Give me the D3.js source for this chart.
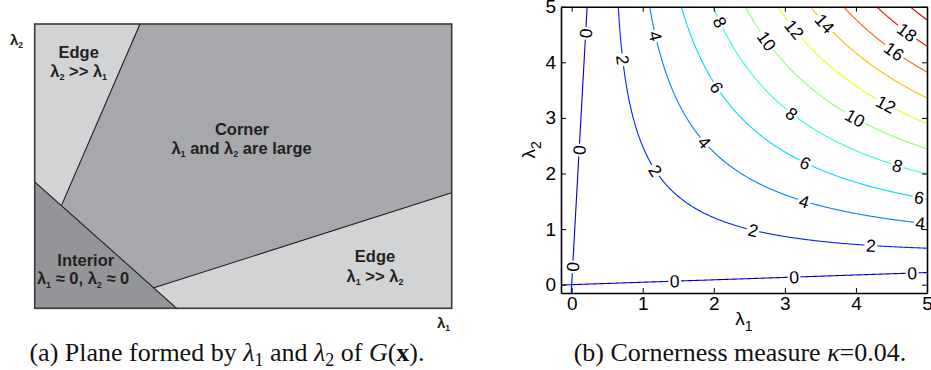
<!DOCTYPE html>
<html>
<head>
<meta charset="utf-8">
<script src="https://cdn.jsdelivr.net/npm/d3@7"></script>
<style>
  body { margin: 0; background: #fff; }
  svg { display: block; }
</style>
</head>
<body>
<svg id="fig" width="931" height="370"></svg>
<script>
// ---------------------------------------------------------------
// Data
// ---------------------------------------------------------------

// (a) Schematic plane: region outlines in normalised (λ1, λ2) units, 0..1
const cornerRegion   = [[0.2525, 1], [1, 1], [1, 0.4066], [0.286, 0.072], [0.0643, 0.362]];
const interiorRegion = [[0, 0], [0, 0.445], [0.3405, 0]];
const dividerEdge2   = [[0.2525, 1], [0.0643, 0.362]];
const dividerEdge1   = [[0.286, 0.072], [1, 0.4066]];
const dividerInterior = [[0, 0.445], [0.3405, 0]];

// Region captions (text parts; {sub: ...} marks a subscript)
const regionTexts = [
  ["Edge"],
  ["λ", {sub: "2"}, " >> λ", {sub: "1"}],
  ["Corner"],
  ["λ", {sub: "1"}, " and λ", {sub: "2"}, " are large"],
  ["Interior"],
  ["λ", {sub: "1"}, " ≈ 0, λ", {sub: "2"}, " ≈ 0"],
  ["Edge"],
  ["λ", {sub: "1"}, " >> λ", {sub: "2"}]
];

// (b) Harris cornerness R = λ1·λ2 − κ(λ1+λ2)²
const kappa = 0.04;
const levels = [0, 2, 4, 6, 8, 10, 12, 14, 16, 18, 20];
const lambda1Ticks = [0, 1, 2, 3, 4, 5];
const lambda2Ticks = [0, 1, 2, 3, 4, 5];
const lambdaDomain = [-0.15, 5];

// Inline contour labels: [level, approx λ1, approx λ2]
const contourLabels = [
  [0, 0.21, 4.52], [0, 0.12, 2.42], [0, 0.01, 0.32], [0, 1.45, 0.07], [0, 3.13, 0.14], [0, 4.79, 0.21],
  [2, 0.68, 4.04], [2, 1.17, 2.05], [2, 2.55, 0.97], [2, 4.21, 0.70],
  [4, 1.17, 4.47], [4, 1.85, 2.55], [4, 3.27, 1.49], [4, 4.90, 1.07],
  [6, 2.02, 3.54], [6, 3.29, 2.19], [6, 4.89, 1.56],
  [8, 2.06, 4.71], [8, 3.09, 3.07], [8, 4.59, 2.15],
  [10, 2.72, 4.37], [10, 3.99, 3.00],
  [12, 3.13, 4.59], [12, 4.42, 3.24],
  [14, 3.55, 4.69],
  [16, 4.53, 4.19],
  [18, 4.70, 4.52]
];

// ---------------------------------------------------------------
// Helpers
// ---------------------------------------------------------------
const svg = d3.select("#fig");

// Append text parts (plain strings, {sub}, {it}, {bf}) as tspans
function richText(textSel, parts, subSize, subShift) {
  let pending = 0;
  parts.forEach(p => {
    const t = textSel.append("tspan");
    if (typeof p === "string") {
      t.text(p);
      if (pending) { t.attr("dy", -pending); pending = 0; }
    } else if (p.sub !== undefined) {
      t.text(p.sub).attr("font-size", subSize).attr("dy", subShift - pending);
      pending = subShift;
    } else {
      t.text(p.it !== undefined ? p.it : p.bf);
      if (p.it !== undefined) t.attr("font-style", "italic");
      if (p.bf !== undefined) t.attr("font-weight", "bold");
      if (pending) { t.attr("dy", -pending); pending = 0; }
    }
  });
  return textSel;
}

// ---------------------------------------------------------------
// (a) Plane formed by λ1 and λ2
// ---------------------------------------------------------------
const px = d3.scaleLinear().domain([0, 1]).range([34.7, 451.7]);
const py = d3.scaleLinear().domain([0, 1]).range([308.3, 24]);
const planeLine = d3.line().x(d => px(d[0])).y(d => py(d[1]));

const gA = svg.append("g");
gA.append("rect")
  .attr("x", px(0)).attr("y", py(1))
  .attr("width", px(1) - px(0)).attr("height", py(0) - py(1))
  .attr("fill", "#d2d3d5");
gA.append("path").attr("d", planeLine(cornerRegion) + "Z").attr("fill", "#a7a8ab");
gA.append("path").attr("d", planeLine(interiorRegion) + "Z").attr("fill", "#949598");
[dividerEdge2, dividerEdge1, dividerInterior].forEach(seg => {
  gA.append("path").attr("d", planeLine(seg))
    .attr("fill", "none").attr("stroke", "#1e1c1d").attr("stroke-width", 1.1);
});
gA.append("rect")
  .attr("x", px(0)).attr("y", py(1))
  .attr("width", px(1) - px(0)).attr("height", py(0) - py(1))
  .attr("fill", "none").attr("stroke", "#3a3a3c").attr("stroke-width", 1.6);

// Region caption layout: [u, v] anchor (middle, baseline)
const regionTextPos = [
  [0.1055, 0.879], [0.1055, 0.8136],
  [0.497, 0.610], [0.496, 0.5433],
  [0.1225, 0.1488], [0.116, 0.0844],
  [0.816, 0.164], [0.816, 0.0936]
];
regionTexts.forEach((parts, i) => {
  const t = gA.append("text")
    .attr("x", px(regionTextPos[i][0])).attr("y", py(regionTextPos[i][1]))
    .attr("text-anchor", "middle")
    .attr("font-family", "Liberation Sans, Arial, sans-serif")
    .attr("font-weight", "bold").attr("font-size", 16.5)
    .attr("fill", "#231f20");
  richText(t, parts, 9, 3.5);
});

// Axis names of the schematic
richText(gA.append("text").attr("x", 10).attr("y", 44.5)
  .attr("font-family", "Liberation Sans, Arial, sans-serif").attr("font-weight", "bold")
  .attr("font-size", 15).attr("fill", "#231f20"), ["λ", {sub: "2"}], 8.5, 3);
richText(gA.append("text").attr("x", 437).attr("y", 328)
  .attr("font-family", "Liberation Sans, Arial, sans-serif").attr("font-weight", "bold")
  .attr("font-size", 15).attr("fill", "#231f20"), ["λ", {sub: "1"}], 8.5, 3);

// ---------------------------------------------------------------
// (b) Cornerness measure contours
// ---------------------------------------------------------------
const plot = {left: 561, right: 927, top: 6.7, bottom: 293};
const x = d3.scaleLinear().domain(lambdaDomain).range([plot.left, plot.right]);
const y = d3.scaleLinear().domain(lambdaDomain).range([plot.bottom, plot.top]);

const R = (l1, l2) => l1 * l2 - kappa * (l1 + l2) * (l1 + l2);
const gradR = (l1, l2) => [l2 - 2 * kappa * (l1 + l2), l1 - 2 * kappa * (l1 + l2)];

// Sample grid (slightly wider than the axes so lines run to the frame)
const nx = 420, ny = 420;
const gridExtent = [-0.22, 5.07];
const gxToL1 = d3.scaleLinear().domain([0.5, nx - 0.5]).range(gridExtent);
const gyToL2 = d3.scaleLinear().domain([0.5, ny - 0.5]).range(gridExtent);
const values = new Float64Array(nx * ny);
for (let j = 0; j < ny; j++) {
  const l2 = gyToL2(j + 0.5);
  for (let i = 0; i < nx; i++) values[j * nx + i] = R(gxToL1(i + 0.5), l2);
}

// Colour: jet colour map across the data range of R over the axes
function jet(t) {
  const c = v => Math.max(0, Math.min(1, v));
  const r = c(1.5 - Math.abs(4 * t - 3));
  const g = c(1.5 - Math.abs(4 * t - 2));
  const b = c(1.5 - Math.abs(4 * t - 1));
  return d3.rgb(r * 255, g * 255, b * 255).formatHex();
}
const cornersR = [R(lambdaDomain[1], lambdaDomain[0]), R(lambdaDomain[1], lambdaDomain[1])];
const colour = d3.scaleSequential(jet).domain([Math.min(...cornersR), Math.max(...cornersR)]);

// Contour polygons -> open lines (drop the grid-border edges)
const contours = d3.contours().size([nx, ny]).thresholds(levels)(values);
function openLines(ring) {
  const pts = ring.slice(0, -1);
  const N = pts.length;
  const onB = pts.map(p => p[0] <= 0 || p[0] >= nx || p[1] <= 0 || p[1] >= ny);
  const start = onB.indexOf(true);
  if (start < 0) return [pts.concat([pts[0]])];
  const out = [];
  let cur = [];
  for (let k = 1; k <= N; k++) {
    const idx = (start + k) % N;
    if (onB[idx]) { if (cur.length > 1) out.push(cur); cur = []; }
    else cur.push(pts[idx]);
  }
  if (cur.length > 1) out.push(cur);
  return out;
}
const isoLine = d3.line().x(p => x(gxToL1(p[0]))).y(p => y(gyToL2(p[1])));

svg.append("defs").append("clipPath").attr("id", "plotClip")
  .append("rect")
  .attr("x", plot.left).attr("y", plot.top)
  .attr("width", plot.right - plot.left).attr("height", plot.bottom - plot.top);

const gB = svg.append("g").attr("clip-path", "url(#plotClip)");
contours.forEach(cn => {
  const lines = [];
  cn.coordinates.forEach(poly => poly.forEach(ring => lines.push(...openLines(ring))));
  gB.append("path")
    .attr("d", lines.map(l => isoLine(l)).join(""))
    .attr("fill", "none")
    .attr("stroke", colour(cn.value))
    .attr("stroke-width", 1.1)
    .attr("stroke-linejoin", "round");
});

// Inline labels: snap to the level curve, rotate along its tangent
const kx = (x.range()[1] - x.range()[0]) / (x.domain()[1] - x.domain()[0]);
const ky = (y.range()[0] - y.range()[1]) / (y.domain()[1] - y.domain()[0]);
contourLabels.forEach(([lev, a, b]) => {
  let l1 = a, l2 = b;
  for (let it = 0; it < 30; it++) {
    const g = gradR(l1, l2);
    const n2 = g[0] * g[0] + g[1] * g[1];
    if (n2 < 1e-12) break;
    const f = R(l1, l2) - lev;
    l1 -= f * g[0] / n2; l2 -= f * g[1] / n2;
  }
  const g = gradR(l1, l2);
  // tangent in pixel space
  let ang = Math.atan2(g[0] / kx, g[1] / ky) * 180 / Math.PI;
  if (ang > 90) ang -= 180;
  if (ang <= -90) ang += 180;
  const lg = gB.append("g")
    .attr("transform", `translate(${x(l1)},${y(l2)}) rotate(${ang})`);
  const bg = lg.append("rect").attr("fill", "#fff");
  const t = lg.append("text")
    .attr("text-anchor", "middle").attr("dy", "0.36em")
    .attr("font-family", "Liberation Sans, Arial, sans-serif")
    .attr("font-size", 17.5).attr("fill", "#000")
    .text(String(lev));
  const w = t.node().getComputedTextLength();
  bg.attr("x", -w / 2 - 1.5).attr("y", -6.5).attr("width", w + 3).attr("height", 13);
});

// Axes (inward ticks, boxed)
const gAx = svg.append("g")
  .attr("font-family", "Liberation Sans, Arial, sans-serif");
function styleAxis(g) {
  g.select(".domain").attr("stroke", "#000").attr("stroke-width", 1.6);
  g.selectAll(".tick line").attr("stroke", "#000").attr("stroke-width", 1);
  g.selectAll(".tick text").attr("font-size", 19).attr("fill", "#000")
    .attr("font-family", "Liberation Sans, Arial, sans-serif");
}
gAx.append("g").attr("transform", `translate(0,${plot.bottom})`)
  .call(d3.axisBottom(x).tickValues(lambda1Ticks).tickFormat(d3.format("d"))
    .tickSizeInner(-5).tickSizeOuter(0).tickPadding(4))
  .call(styleAxis);
gAx.append("g").attr("transform", `translate(${plot.left},0)`)
  .call(d3.axisLeft(y).tickValues(lambda2Ticks).tickFormat(d3.format("d"))
    .tickSizeInner(-5).tickSizeOuter(0).tickPadding(5))
  .call(styleAxis);
gAx.append("g").attr("transform", `translate(0,${plot.top})`)
  .call(d3.axisTop(x).tickValues(lambda1Ticks).tickFormat("")
    .tickSizeInner(-5).tickSizeOuter(0))
  .call(styleAxis);
gAx.append("g").attr("transform", `translate(${plot.right},0)`)
  .call(d3.axisRight(y).tickValues(lambda2Ticks).tickFormat("")
    .tickSizeInner(-5).tickSizeOuter(0))
  .call(styleAxis);

// Axis titles
richText(svg.append("text")
  .attr("x", (plot.left + plot.right) / 2).attr("y", 325)
  .attr("text-anchor", "middle")
  .attr("font-family", "Liberation Sans, Arial, sans-serif")
  .attr("font-size", 19).attr("fill", "#000"), ["λ", {sub: "1"}], 14, 6);
richText(svg.append("text")
  .attr("transform", `translate(535,${(plot.top + plot.bottom) / 2}) rotate(-90)`)
  .attr("text-anchor", "middle")
  .attr("font-family", "Liberation Sans, Arial, sans-serif")
  .attr("font-size", 19).attr("fill", "#000"), ["λ", {sub: "2"}], 14, 6);

// ---------------------------------------------------------------
// Sub-figure captions
// ---------------------------------------------------------------
function caption(cx, parts) {
  const t = svg.append("text")
    .attr("x", cx).attr("y", 361)
    .attr("text-anchor", "middle")
    .attr("font-family", "Liberation Serif, Times New Roman, serif")
    .attr("font-size", 26).attr("fill", "#111");
  richText(t, parts, 18, 5);
}
caption(227, ["(a) Plane formed by ", {it: "λ"}, {sub: "1"}, " and ", {it: "λ"}, {sub: "2"},
  " of ", {it: "G"}, "(", {bf: "x"}, ")."]);
caption(740, ["(b) Cornerness measure ", {it: "κ"}, "=0.04."]);
</script>
</body>
</html>
